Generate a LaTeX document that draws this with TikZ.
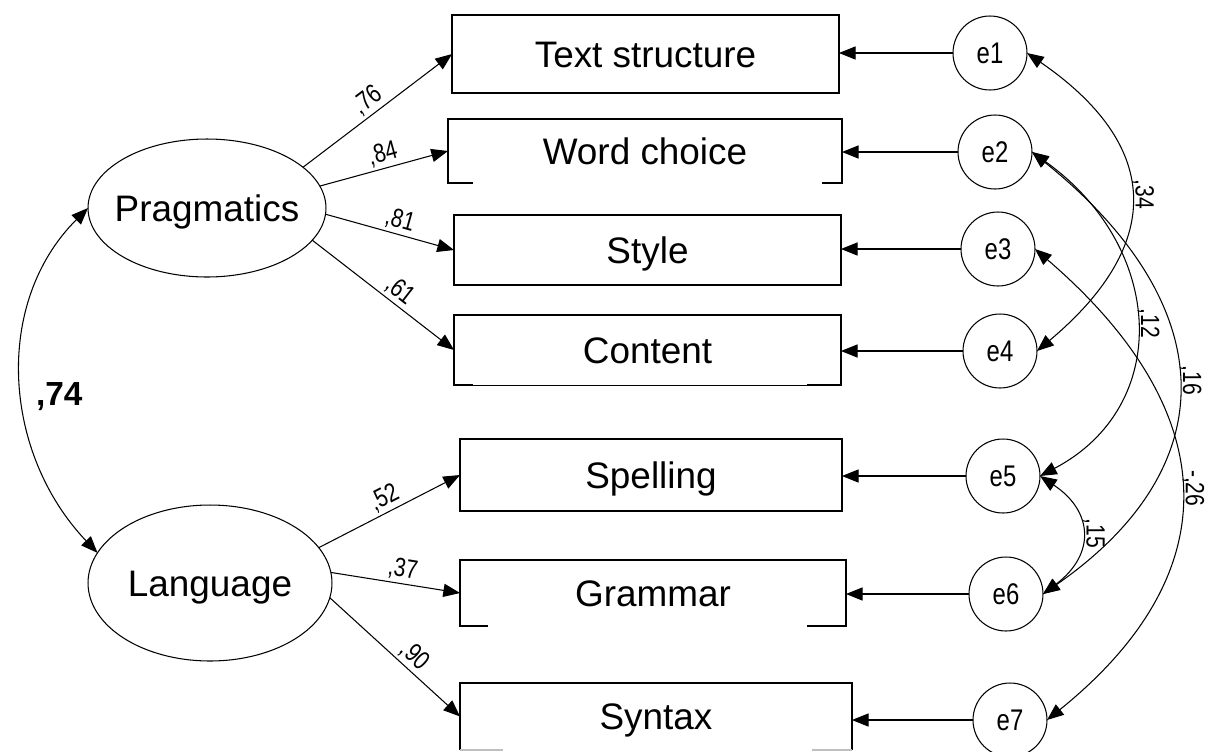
\documentclass[tikz,border=0pt]{standalone}
\usepackage{fontspec}
\setmainfont{Liberation Sans}
\newfontfamily\narrowsans[FakeStretch=0.8]{Liberation Sans}
\usetikzlibrary{shapes.geometric,arrows.meta,calc}

\tikzset{
  >={Triangle[length=9.5pt,width=7.5pt]},
  boxline/.style={line width=1.1pt},
  thinline/.style={line width=0.5pt},
  obsbox/.style={rectangle, inner sep=0pt, outer sep=0pt,
    text height=15pt, text depth=0pt, font=\fontsize{21}{25}\selectfont},
  drawnbox/.style={obsbox, draw, boxline},
  latent/.style={ellipse, draw, line width=0.6pt, inner sep=0pt, outer sep=0pt,
    text height=15pt, text depth=0pt, font=\fontsize{21}{25}\selectfont},
  errvar/.style={circle, draw, line width=0.6pt, minimum size=1.48cm,
    inner sep=0pt, outer sep=0pt, text height=12pt, text depth=0pt,
    font=\narrowsans\fontsize{17}{20}\selectfont},
  link/.style={->, line width=0.6pt},
  covlink/.style={<->, line width=0.6pt},
  coef/.style={font=\narrowsans\fontsize{15}{17}\selectfont, inner sep=1.5pt},
  rcoef/.style={coef, rotate=-90, anchor=south, inner sep=0.8pt},
}

\begin{document}
\begin{tikzpicture}[x=0.02cm, y=-0.02cm]
\useasboundingbox (0,0) rectangle (1210,751);

% latent factors (text in zero-width boxes so the ellipse keeps its given size)
\node[latent, minimum width=4.76cm, minimum height=2.76cm] (prag) at (207,208) {\makebox[0pt]{Pragmatics}};
\node[latent, minimum width=4.88cm, minimum height=3.12cm] (lang) at (210,583) {\makebox[0pt]{Language}};

% observed indicators
\node[drawnbox, minimum width=7.74cm, minimum height=1.56cm] (ts) at (645.5,54) {Text structure};
\node[obsbox,   minimum width=7.88cm, minimum height=1.28cm] (wc) at (645,151) {Word choice};
\node[drawnbox, minimum width=7.74cm, minimum height=1.40cm] (st) at (647.5,250) {Style};
\node[obsbox,   minimum width=7.74cm, minimum height=1.40cm] (co) at (647.5,350) {Content};
\node[drawnbox, minimum width=7.64cm, minimum height=1.44cm] (sp) at (651,475) {Spelling};
\node[obsbox,   minimum width=7.72cm, minimum height=1.32cm] (gr) at (653,593) {Grammar};
\node[obsbox,   minimum width=7.84cm, minimum height=1.34cm] (sy) at (656,716.5) {Syntax};

% boxes whose bottom edge is broken
\draw[boxline] ($(wc.south west)+(25,0)$) -- (wc.south west) -- (wc.north west)
  -- (wc.north east) -- (wc.south east) -- ++(-20,0);
\draw[boxline] ($(co.south west)+(19,0)$) -- (co.south west) -- (co.north west)
  -- (co.north east) -- (co.south east) -- ++(-34,0);
\draw[thinline] ($(co.south west)+(19,0)$) -- ($(co.south east)+(-34,0)$);
\draw[boxline] ($(gr.south west)+(28,0)$) -- (gr.south west) -- (gr.north west)
  -- (gr.north east) -- (gr.south east) -- ++(-39,0);
\draw[boxline] (sy.south west) -- (sy.north west) -- (sy.north east) -- (sy.south east);
\draw[boxline, gray!50] (sy.south west) -- ++(43,0);
\draw[boxline, gray!50] (sy.south east) -- ++(-40,0);

% error terms
\node[errvar] (e1) at (990,53)  {e1};
\node[errvar] (e2) at (995,152) {e2};
\node[errvar] (e3) at (998,249) {e3};
\node[errvar] (e4) at (1000,351) {e4};
\node[errvar] (e5) at (1003,476) {e5};
\node[errvar] (e6) at (1006,594) {e6};
\node[errvar] (e7) at (1010,720) {e7};

% factor loadings
\draw[link] (prag.23)  -- (ts.west) node[coef, pos=0.49, above, sloped] {,76};
\draw[link] (prag.11)  -- (wc.west) node[coef, pos=0.52, above, sloped] {,84};
\draw[link] (prag.357) -- (st.west) node[coef, pos=0.55, above, sloped] {,81};
\draw[link] (prag.343) -- (co.west) node[coef, pos=0.56, above, sloped] {,61};
\draw[link] (lang.18)  -- (sp.west) node[coef, pos=0.51, above, sloped] {,52};
\draw[link] (lang.5)   -- (gr.west) node[coef, pos=0.54, above, sloped] {,37};
\draw[link] (lang.353) -- (sy.west) node[coef, pos=0.58, above, sloped] {,90};

% residual paths
\draw[link] (e1.west) -- (e1.west -| ts.east);
\draw[link] (e2.west) -- (e2.west -| wc.east);
\draw[link] (e3.west) -- (e3.west -| st.east);
\draw[link] (e4.west) -- (e4.west -| co.east);
\draw[link] (e5.west) -- (e5.west -| sp.east);
\draw[link] (e6.west) -- (e6.west -| gr.east);
\draw[link] (e7.west) -- (e7.west -| sy.east);

% factor covariance
\draw[covlink] (prag.180) .. controls +(-95,95) and +(-95,-100) .. (lang.165)
  node[pos=0.5, anchor=north west, inner sep=0pt, xshift=8pt, yshift=-2pt,
       font=\bfseries\fontsize{19}{22}\selectfont] {,74};

% error covariances
\draw[covlink] (e1.east) .. controls +(131,90) and +(131,-110) .. (e4.east)
  node[rcoef, pos=0.5] {,34};
\draw[covlink] (e2.east) .. controls +(133,95) and +(133,-70) .. (e5.east)
  node[rcoef, pos=0.5] {,12};
\draw[covlink] (e2.east) .. controls +(187,150) and +(187,-130) .. (e6.east)
  node[rcoef, pos=0.5] {,16};
\draw[covlink] (e3.east) .. controls +(186,160) and +(186,-150) .. (e7.east)
  node[rcoef, pos=0.5] {-,26};
\draw[covlink] (e5.east) .. controls +(53,35) and +(53,-40) .. (e6.east)
  node[rcoef, pos=0.5] {,15};
\end{tikzpicture}
\end{document}
